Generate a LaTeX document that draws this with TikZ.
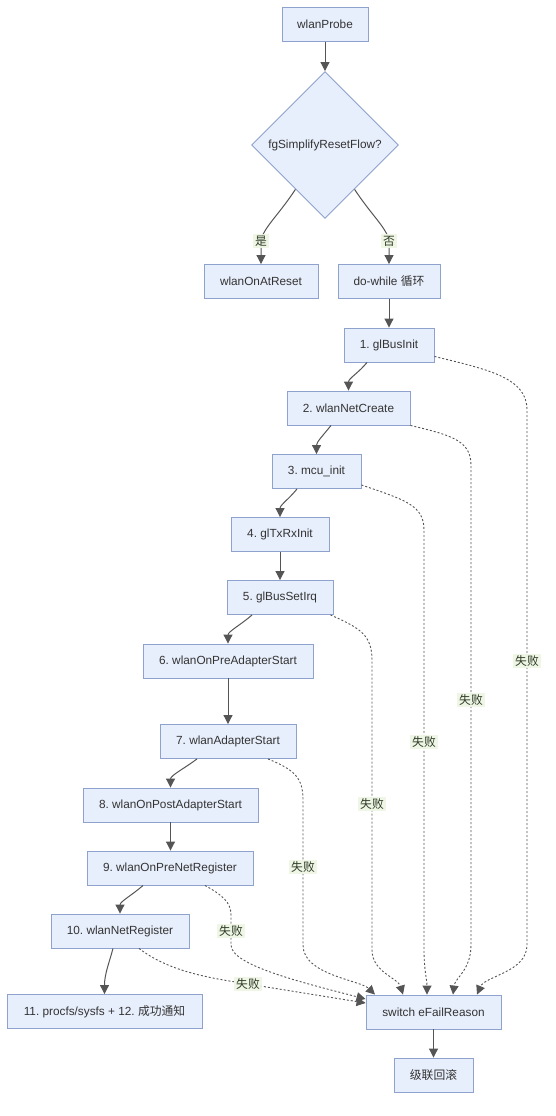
\documentclass[tikz,border=0pt]{standalone}
\usepackage{fontspec}
\setmainfont{Liberation Sans}
\newfontfamily\cjk{Noto Sans CJK SC}
\usetikzlibrary{shapes.geometric,arrows.meta,calc}
\definecolor{boxfill}{HTML}{E8EFFC}
\definecolor{boxline}{HTML}{8EA2CD}
\definecolor{txt}{HTML}{333333}
\definecolor{edgec}{HTML}{555555}
\definecolor{lblbg}{HTML}{EEF6E4}
\definecolor{lbltxt}{HTML}{2F3B27}
\frenchspacing
\begin{document}
\begin{tikzpicture}[x=1pt,y=-1pt,
 font=\fontsize{11.8pt}{14pt}\selectfont\frenchspacing,
 box/.style={draw=boxline, fill=boxfill, line width=0.9pt, text=txt, minimum height=34pt, inner sep=0pt},
 decbox/.style={diamond, aspect=1, draw=boxline, fill=boxfill, line width=0.9pt, text=txt, minimum width=147pt, minimum height=147pt, inner sep=0pt},
 flow/.style={draw=edgec, line width=1pt, -{Triangle[length=9pt,width=9pt]}},
 fail/.style={draw=edgec, line width=0.9pt, dash pattern=on 2pt off 2pt, -{Triangle[length=9pt,width=9pt]}},
 lbl/.style={fill=lblbg, fill opacity=0.9, text opacity=1, text=lbltxt, inner sep=2pt, font=\fontsize{11.8pt}{14pt}\selectfont\cjk},
]
\fill[white] (0,0) rectangle (556,1116);
\useasboundingbox (0,0) rectangle (556,1116);

\node[box, minimum width=86pt] (probe) at (325,24.5) {wlanProbe};
\node[decbox] (dec) at (325,145) {fgSimplifyResetFlow?};
\node[box, minimum width=114pt] (reset) at (261,281.5) {wlanOnAtReset};
\node[box, minimum width=102pt] (loop) at (389,281.5) {do-while {\cjk 循环}};
\node[box, minimum width=90pt] (s1) at (389,345) {1. glBusInit};
\node[box, minimum width=123pt] (s2) at (348.5,408) {2. wlanNetCreate};
\node[box, minimum width=89pt] (s3) at (316.5,471.5) {3. mcu\_init};
\node[box, minimum width=98pt] (s4) at (280,534.5) {4. glTxRxInit};
\node[box, minimum width=106pt] (s5) at (280,597.5) {5. glBusSetIrq};
\node[box, minimum width=170pt] (s6) at (228,661) {6. wlanOnPreAdapterStart};
\node[box, minimum width=136pt] (s7) at (228,741.5) {7. wlanAdapterStart};
\node[box, minimum width=175pt] (s8) at (170.5,805) {8. wlanOnPostAdapterStart};
\node[box, minimum width=166pt] (s9) at (170,868) {9. wlanOnPreNetRegister};
\node[box, minimum width=138pt] (s10) at (120,931) {10. wlanNetRegister};
\node[box, minimum width=195pt] (s11) at (104.5,1011.5) {11. procfs/sysfs + 12. {\cjk 成功通知}};
\node[box, minimum width=135pt] (sw) at (433.5,1012) {switch eFailReason};
\node[box, minimum width=79pt] (rb) at (433.5,1075) {\cjk 级联回滚};

% main flow
\draw[flow] (probe.south) -- (dec.north);
\draw[flow] ($(dec.west)!0.6!(dec.south)$) .. controls (278,216) and (263,228) .. (261,241) node[lbl]{是} -- (reset.north);
\draw[flow] ($(dec.east)!0.6!(dec.south)$) .. controls (372,216) and (387,228) .. (389,241) node[lbl]{否} -- (loop.north);
\draw[flow] (loop.south) -- (s1.north);
\draw[flow] ([xshift=-22pt]s1.south) .. controls +(-8,10) and +(0,-12) .. (s2.north);
\draw[flow] ([xshift=-17.5pt]s2.south) .. controls +(-8,10) and +(0,-12) .. (s3.north);
\draw[flow] ([xshift=-19.5pt]s3.south) .. controls +(-8,10) and +(0,-12) .. (s4.north);
\draw[flow] (s4.south) -- (s5.north);
\draw[flow] ([xshift=-28pt]s5.south) .. controls +(-10,9) and +(0,-12) .. (s6.north);
\draw[flow] (s6.south) -- (s7.north);
\draw[flow] ([xshift=-31pt]s7.south) .. controls +(-12,9) and +(0,-12) .. (s8.north);
\draw[flow] (s8.south) -- (s8.south |- s9.north);
\draw[flow] ([xshift=-27pt]s9.south) .. controls +(-10,9) and +(0,-12) .. (s10.north);
\draw[flow] ([xshift=-7pt]s10.south) .. controls +(-4,15) and +(0,-20) .. (s11.north);
\draw[flow] (sw.south) -- (rb.north);

% failure paths
\draw[fail] ([yshift=6pt]s1.south east) .. controls (490,370) and (527,378) .. (527,410)
  -- (527,661) node[lbl]{失败} -- (527,945) .. controls (527,972) and (485,976) .. ([xshift=43.5pt]sw.north);
\draw[fail] (s2.south east) .. controls (450,435) and (471,440) .. (471,465)
  -- (471,700) node[lbl]{失败} -- (471,945) .. controls (471,970) and (455,978) .. ([xshift=19.5pt]sw.north);
\draw[fail] ([yshift=4pt]s3.south east) .. controls (405,500) and (424,505) .. (424,530)
  -- (424,742) node[lbl]{失败} -- (424,950) .. controls (424,970) and (427,980) .. ([xshift=-6.5pt]sw.north);
\draw[fail] ([xshift=-3pt]s5.south east) .. controls (360,628) and (372,635) .. (372,660)
  -- (372,804) node[lbl]{失败} -- (372,950) .. controls (372,972) and (398,978) .. ([xshift=-30.5pt]sw.north);
\draw[fail] ([xshift=40pt]s7.south) .. controls (295,770) and (303,778) .. (303,800)
  -- (303,867) node[lbl]{失败} -- (303,945) .. controls (303,975) and (360,980) .. ([xshift=-58.5pt]sw.north);
\draw[fail] ([xshift=35pt]s9.south) .. controls (222,895) and (231,902) .. (231,915)
  -- (231,931) node[lbl]{失败} -- (231,945) .. controls (231,965) and (300,982) .. ([yshift=13pt]sw.west);
\draw[fail] ([xshift=19pt]s10.south) .. controls (170,972) and (210,978) .. (248,984)
  node[lbl]{失败} -- ([yshift=9pt]sw.west);
\end{tikzpicture}
\end{document}
